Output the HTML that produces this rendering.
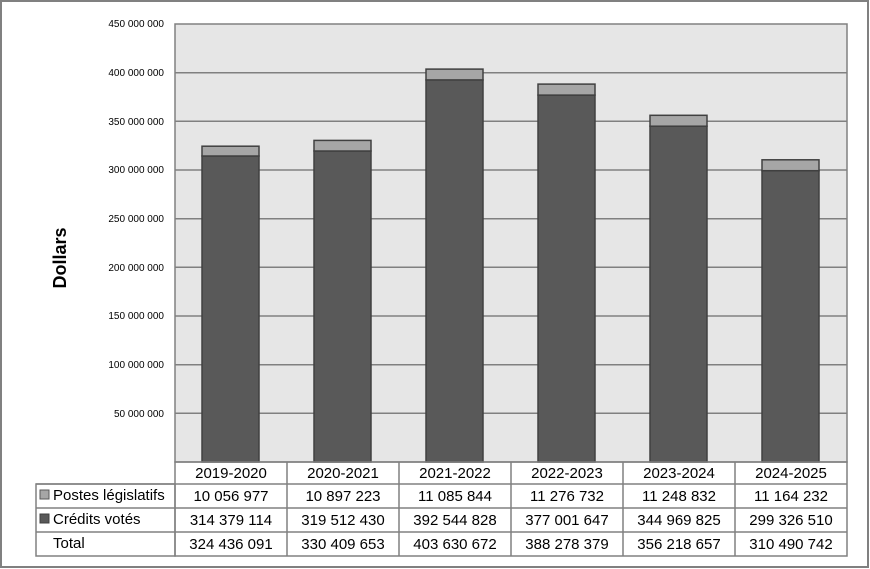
<!DOCTYPE html>
<html><head><meta charset="utf-8"><style>
body{margin:0;background:#fff}
svg{display:block;font-family:"Liberation Sans",Arial,sans-serif}
</style></head><body>
<svg width="870" height="569" viewBox="0 0 870 569">
<rect x="1" y="1" width="867" height="566" fill="#fff" stroke="#808080" stroke-width="2"/>
<rect x="175" y="24" width="672" height="438" fill="#e6e6e6"/>
<g stroke="#808080" stroke-width="1.5">
<line x1="175" x2="847" y1="72.7" y2="72.7"/>
<line x1="175" x2="847" y1="121.3" y2="121.3"/>
<line x1="175" x2="847" y1="170" y2="170"/>
<line x1="175" x2="847" y1="218.7" y2="218.7"/>
<line x1="175" x2="847" y1="267.3" y2="267.3"/>
<line x1="175" x2="847" y1="316" y2="316"/>
<line x1="175" x2="847" y1="364.7" y2="364.7"/>
<line x1="175" x2="847" y1="413.3" y2="413.3"/>
</g>
<rect x="175" y="24" width="672" height="438" fill="none" stroke="#808080" stroke-width="1.5"/>
<g font-size="10" text-anchor="end" fill="#000">
<text x="164" y="27">450 000 000</text>
<text x="164" y="76">400 000 000</text>
<text x="164" y="125">350 000 000</text>
<text x="164" y="173">300 000 000</text>
<text x="164" y="222">250 000 000</text>
<text x="164" y="271">200 000 000</text>
<text x="164" y="319">150 000 000</text>
<text x="164" y="368">100 000 000</text>
<text x="164" y="417">50 000 000</text>
</g>
<text transform="translate(66,258) rotate(-90)" font-size="18" font-weight="bold" text-anchor="middle">Dollars</text>
<g stroke="#404040" stroke-width="1.5">
<rect x="202" y="156" width="57" height="306" fill="#595959"/><rect x="202" y="146.2" width="57" height="9.8" fill="#a6a6a6"/>
<rect x="314" y="151" width="57" height="311" fill="#595959"/><rect x="314" y="140.4" width="57" height="10.6" fill="#a6a6a6"/>
<rect x="426" y="79.9" width="57" height="382.1" fill="#595959"/><rect x="426" y="69.1" width="57" height="10.8" fill="#a6a6a6"/>
<rect x="538" y="95.1" width="57" height="366.9" fill="#595959"/><rect x="538" y="84.1" width="57" height="11" fill="#a6a6a6"/>
<rect x="650" y="126.2" width="57" height="335.8" fill="#595959"/><rect x="650" y="115.3" width="57" height="10.9" fill="#a6a6a6"/>
<rect x="762" y="170.7" width="57" height="291.3" fill="#595959"/><rect x="762" y="159.8" width="57" height="10.9" fill="#a6a6a6"/>
</g>
<g stroke="#808080" stroke-width="1.5" fill="none">
<rect x="175" y="462" width="672" height="94"/>
<rect x="36" y="484" width="139" height="72"/>
<line x1="36" x2="847" y1="484" y2="484"/>
<line x1="36" x2="847" y1="508" y2="508"/>
<line x1="36" x2="847" y1="532" y2="532"/>
<line x1="287" x2="287" y1="462" y2="556"/>
<line x1="399" x2="399" y1="462" y2="556"/>
<line x1="511" x2="511" y1="462" y2="556"/>
<line x1="623" x2="623" y1="462" y2="556"/>
<line x1="735" x2="735" y1="462" y2="556"/>
</g>
<rect x="40" y="490" width="9" height="9" fill="#a6a6a6" stroke="#595959"/>
<rect x="40" y="514" width="9" height="9" fill="#595959" stroke="#404040"/>
<g font-size="15" fill="#000">
<text x="53" y="500">Postes législatifs</text>
<text x="53" y="524">Crédits votés</text>
<text x="53" y="548">Total</text>
</g>
<g font-size="15" text-anchor="middle" fill="#000">
<text x="231" y="478">2019-2020</text><text x="343" y="478">2020-2021</text><text x="455" y="478">2021-2022</text><text x="567" y="478">2022-2023</text><text x="679" y="478">2023-2024</text><text x="791" y="478">2024-2025</text>
<text x="231" y="501">10 056 977</text><text x="343" y="501">10 897 223</text><text x="455" y="501">11 085 844</text><text x="567" y="501">11 276 732</text><text x="679" y="501">11 248 832</text><text x="791" y="501">11 164 232</text>
<text x="231" y="525">314 379 114</text><text x="343" y="525">319 512 430</text><text x="455" y="525">392 544 828</text><text x="567" y="525">377 001 647</text><text x="679" y="525">344 969 825</text><text x="791" y="525">299 326 510</text>
<text x="231" y="549">324 436 091</text><text x="343" y="549">330 409 653</text><text x="455" y="549">403 630 672</text><text x="567" y="549">388 278 379</text><text x="679" y="549">356 218 657</text><text x="791" y="549">310 490 742</text>
</g>
</svg>
</body></html>
